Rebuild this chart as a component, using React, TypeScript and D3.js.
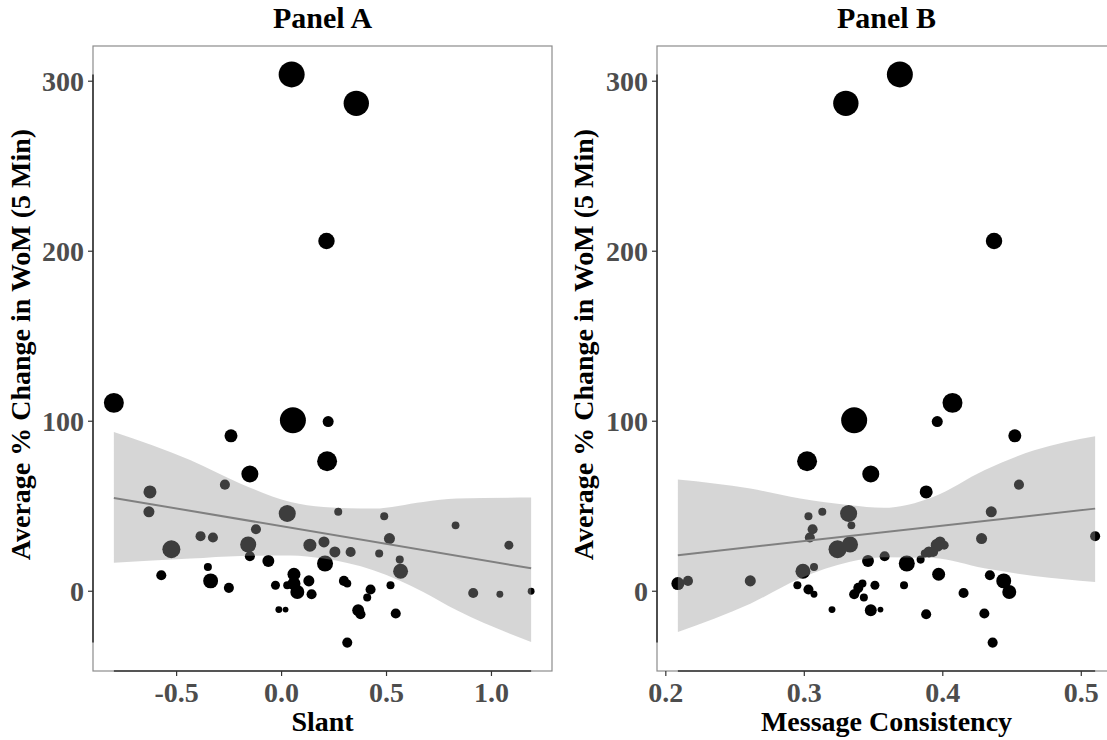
import React from "react";
import * as d3 from "d3";

// one row per campaign: slant, message consistency, % change in WoM, weight (drives dot size)
const slant = [
  0.048, 0.356, 0.214, -0.799, 0.054, 0.222, -0.241, 0.217, -0.151, -0.27,
  -0.627, -0.632, 0.027, 0.27, 0.489, 0.829, -0.122, -0.386, -0.327, 0.514,
  0.202, -0.159, 0.135, 1.083, -0.525, 0.254, 0.329, 0.465, -0.151, 0.563,
  -0.063, 0.207, -0.351, 0.567, 0.059, -0.573, -0.338, 0.13, 0.297, 0.059,
  0.313, -0.029, 0.027, 0.519, -0.251, 0.424, 1.189, 0.075, 0.913, 0.143,
  1.04, 0.408, -0.013, 0.019, 0.365, 0.376, 0.544, 0.313,
];
const consistency = [
  0.369, 0.33, 0.437, 0.407, 0.336, 0.396, 0.452, 0.302, 0.348, 0.455,
  0.388, 0.435, 0.332, 0.313, 0.303, 0.334, 0.306, 0.51, 0.304, 0.428,
  0.398, 0.333, 0.396, 0.401, 0.324, 0.39, 0.393, 0.387, 0.358, 0.384,
  0.346, 0.374, 0.307, 0.299, 0.397, 0.434, 0.444, 0.261, 0.216, 0.2087,
  0.342, 0.351, 0.295, 0.372, 0.339, 0.303, 0.338, 0.448, 0.415, 0.336,
  0.307, 0.343, 0.32, 0.355, 0.348, 0.388, 0.43, 0.436,
];
const womChange = [
  304, 287, 206, 110.8, 100.6, 99.8, 91.4, 76.5, 69.0, 62.7,
  58.4, 46.7, 45.7, 46.7, 44.1, 38.8, 36.5, 32.4, 31.6, 31.0,
  29.0, 27.5, 27.1, 27.1, 24.7, 23.1, 23.1, 22.2, 20.6, 18.6,
  17.8, 16.3, 14.3, 11.8, 10.0, 9.4, 6.1, 6.1, 6.1, 4.5,
  4.5, 3.5, 3.5, 3.5, 2.0, 1.0, 0, -0.4, -1.0, -1.8,
  -1.8, -3.7, -10.8, -10.8, -11.2, -13.5, -13.1, -30.2,
];
const weight = [
  100, 95, 40, 59, 100, 18, 25, 59, 43, 15,
  25, 18, 43, 9.5, 9.5, 9, 15, 15, 15, 18,
  18, 38, 25, 12, 48, 18, 15, 9.5, 15, 9.5,
  21, 38, 9.5, 33, 25, 15, 33, 18, 15, 25,
  9.5, 12, 9.5, 9.5, 15, 15, 7, 29, 15, 15,
  7, 9.5, 7, 5, 21, 15, 15, 15,
];

// linear fit with 95% band
const bandSlantX = [-0.799, -0.433, -0.195, 0.043, 0.2, 0.437, 0.675, 0.835, 1.189];
const bandSlantHi = [93.7, 77.1, 63.3, 52.5, 49.6, 48.6, 52.5, 54.5, 55.1];
const bandSlantLo = [16.7, 19.2, 20.8, 21.0, 19.2, 12.4, -0.4, -11.2, -29.8];
const fitSlant = [54.9, 13.5];

const bandConsX = [0.2087, 0.261, 0.297, 0.333, 0.357, 0.393, 0.43, 0.466, 0.51];
const bandConsHi = [65.7, 60.4, 54.5, 50.6, 49.1, 55.5, 71.2, 82.9, 91.2];
const bandConsLo = [-23.9, -7.3, 7.5, 17.3, 20.0, 19.5, 13.5, 9.0, 5.5];
const fitCons = [21.2, 48.6];

const yTicks = [0, 100, 200, 300];
const slantTicks = [-0.5, 0.0, 0.5, 1.0];
const consTicks = [0.2, 0.3, 0.4, 0.5];

const FONT = "'Liberation Serif', 'Times New Roman', serif";
const TOP = 46;
const BOTTOM = 671;
const PANEL_W = 459;

const expand = (vals: number[]): [number, number] => {
  const [lo, hi] = d3.extent(vals) as [number, number];
  const pad = (hi - lo) * 0.05;
  return [lo - pad, hi + pad];
};

type PanelProps = {
  xs: number[];
  left: number;
  title: string;
  xLabel: string;
  xTicks: number[];
  bandX: number[];
  bandHi: number[];
  bandLo: number[];
  fit: number[];
  yTitleX: number;
};

const Panel = ({ xs, left, title, xLabel, xTicks, bandX, bandHi, bandLo, fit, yTitleX }: PanelProps) => {
  const x = d3.scaleLinear().domain(expand(xs)).range([left, left + PANEL_W]);
  const y = d3.scaleLinear().domain(expand(womChange)).range([BOTTOM, TOP]);
  const r = d3.scaleSqrt().domain([0, 100]).range([0, 13]);
  const [xMin, xMax] = d3.extent(xs) as [number, number];
  const [yMin, yMax] = d3.extent(womChange) as [number, number];

  const band = d3
    .area<number>()
    .x((d) => x(d))
    .y0((_, i) => y(bandLo[i]))
    .y1((_, i) => y(bandHi[i]))
    .curve(d3.curveMonotoneX);

  const pts = xs.map((v, i) => ({ x: v, y: womChange[i], w: weight[i] }));
  const cx = left + PANEL_W / 2;
  const clipId = "clip-" + left;

  return (
    <g>
      <defs>
        <clipPath id={clipId}>
          <rect x={left} y={TOP} width={PANEL_W} height={BOTTOM - TOP} />
        </clipPath>
      </defs>
      <rect x={left} y={TOP} width={PANEL_W} height={BOTTOM - TOP} fill="white" stroke="#8c8c8c" strokeWidth={1.2} />

      <g clipPath={`url(#${clipId})`}>
        {pts.map((p, i) => (
          <circle key={i} cx={x(p.x)} cy={y(p.y)} r={r(p.w)} fill="black" />
        ))}
        <path d={band(bandX) || ""} fill="#999999" fillOpacity={0.4} />
        <line x1={x(xMin)} x2={x(xMax)} y1={y(fit[0])} y2={y(fit[1])} stroke="#808080" strokeWidth={2} />
      </g>

      {/* range frame axes */}
      <line x1={left} x2={left} y1={y(yMax)} y2={y(yMin)} stroke="#333" strokeWidth={1.6} />
      <line x1={x(xMin)} x2={x(xMax)} y1={BOTTOM} y2={BOTTOM} stroke="#333" strokeWidth={1.6} />

      {yTicks.map((t) => (
        <g key={t}>
          <line x1={left - 5} x2={left} y1={y(t)} y2={y(t)} stroke="#333" strokeWidth={1.2} />
          <text
            x={left - 9}
            y={y(t)}
            dy="0.35em"
            textAnchor="end"
            fontFamily={FONT}
            fontWeight="bold"
            fontSize={28}
            fill="#4d4d4d"
          >
            {t}
          </text>
        </g>
      ))}
      {xTicks.map((t) => (
        <g key={t}>
          <line x1={x(t)} x2={x(t)} y1={BOTTOM} y2={BOTTOM + 5} stroke="#333" strokeWidth={1.2} />
          <text
            x={x(t)}
            y={BOTTOM + 31}
            textAnchor="middle"
            fontFamily={FONT}
            fontWeight="bold"
            fontSize={28}
            fill="#4d4d4d"
          >
            {t.toFixed(1)}
          </text>
        </g>
      ))}

      <text x={cx} y={28} textAnchor="middle" fontFamily={FONT} fontWeight="bold" fontSize={30} fill="black">
        {title}
      </text>
      <text x={cx} y={731} textAnchor="middle" fontFamily={FONT} fontWeight="bold" fontSize={28} fill="black">
        {xLabel}
      </text>
      <text
        transform={`translate(${yTitleX}, ${(TOP + BOTTOM) / 2 - 14}) rotate(-90)`}
        textAnchor="middle"
        fontFamily={FONT}
        fontWeight="bold"
        fontSize={28}
        fill="black"
      >
        Average % Change in WoM (5 Min)
      </text>
    </g>
  );
};

export default function App() {
  return (
    <svg
      width={1107}
      height={740}
      style={{ position: "absolute", left: 0, top: 0, background: "white" }}
    >
      <rect width={1107} height={740} fill="white" />
      <Panel
        xs={slant}
        left={93}
        title="Panel A"
        xLabel="Slant"
        xTicks={slantTicks}
        bandX={bandSlantX}
        bandHi={bandSlantHi}
        bandLo={bandSlantLo}
        fit={fitSlant}
        yTitleX={30}
      />
      <Panel
        xs={consistency}
        left={657}
        title="Panel B"
        xLabel="Message Consistency"
        xTicks={consTicks}
        bandX={bandConsX}
        bandHi={bandConsHi}
        bandLo={bandConsLo}
        fit={fitCons}
        yTitleX={593}
      />
    </svg>
  );
}
